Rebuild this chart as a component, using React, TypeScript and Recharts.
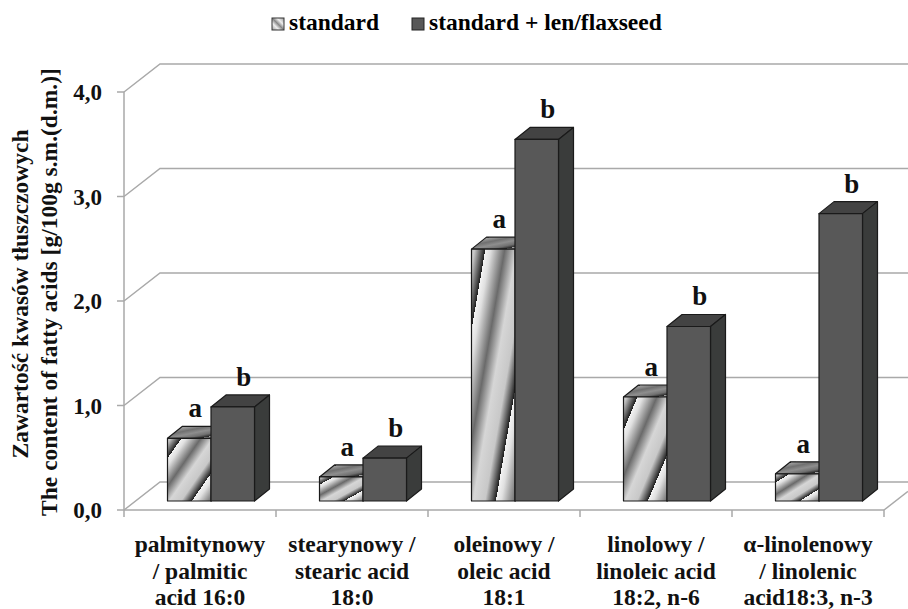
import React from "react";
import { BarChart, Bar, XAxis, YAxis, CartesianGrid, Legend, LabelList, Label } from "recharts";

const categoryKeys = ["palmitynowy", "stearynowy", "oleinowy", "linolowy", "linolenowy"];
const categoryLines = [
  ["palmitynowy", "/ palmitic", "acid 16:0"],
  ["stearynowy /", "stearic acid", "18:0"],
  ["oleinowy /", "oleic acid", "18:1"],
  ["linolowy /", "linoleic acid", "18:2, n-6"],
  ["α-linolenowy", "/ linolenic", "acid18:3, n-3"],
];
const standardValues = [0.6, 0.23, 2.41, 0.995, 0.26];
const flaxseedValues = [0.9, 0.41, 3.46, 1.67, 2.75];
const standardLetters = ["a", "a", "a", "a", "a"];
const flaxseedLetters = ["b", "b", "b", "b", "b"];
const yTicks = [0, 1, 2, 3, 4];
const seriesNames = ["standard", "standard + len/flaxseed"];
const yTitle = ["Zawartość kwasów tłuszczowych", "The content of fatty acids [g/100g s.m.(d.m.)]"];

const data = categoryKeys.map((k, i) => ({
  key: k,
  standard: standardValues[i],
  flax: flaxseedValues[i],
  la: standardLetters[i],
  lb: flaxseedLetters[i],
}));

const FONT = "'Liberation Serif', 'Times New Roman', serif";
const GRID = "#a9a9a9";
const INK = "#111";
const DX = 10.5, DY = -9;      // floor inset of the bars
const BX = 15, BY = -12;       // bar depth
const WX = 36, WY = -28;       // wall depth

const Stripes = ({ id, stops }: { id: string; stops: [number, string][] }) => (
  <linearGradient id={id} x1="0.16" y1="0.16" x2="0.78" y2="0.78" spreadMethod="repeat">
    {stops.map(([o, c], i) => <stop key={i} offset={o} stopColor={c} />)}
  </linearGradient>
);
const frontStops: [number, string][] = [[0, "#f4f4f4"], [0.1, "#e0e0e0"], [0.36, "#6a6a6a"], [0.58, "#d6d6d6"], [0.8, "#c8c8c8"], [1, "#1e1e1e"]];
const topStops: [number, string][] = [[0, "#a4a4a4"], [0.3, "#707070"], [0.55, "#8e8e8e"], [0.8, "#707070"], [1, "#262626"]];

const Box = ({ x, y, width, height, front, top, side }: any) => {
  const X = x + DX, Y = y + DY;
  return (
    <g stroke="#1a1a1a" strokeWidth={1.2} strokeLinejoin="round">
      <path d={`M${X},${Y} l${BX},${BY} h${width} l${-BX},${-BY} z`} fill={top} />
      <path d={`M${X + width},${Y} l${BX},${BY} v${height} l${-BX},${-BY} z`} fill={side} />
      <rect x={X} y={Y} width={width} height={height} fill={front} />
    </g>
  );
};
const StandardBar = (p: any) => <Box {...p} front="url(#stripesFront)" top="url(#stripesTop)" side="#555" />;
const FlaxBar = (p: any) => <Box {...p} front="#585858" top="#434343" side="#3a3c3b" />;

const makeLetter = (shift: number) => ({ x, y, width, value }: any) => (
  <text x={x + DX + width / 2 + shift} y={y + DY - 21} textAnchor="middle" fontFamily={FONT} fontWeight="bold" fontSize={27} fill={INK}>{value}</text>
);
const LetterA = makeLetter(6);
const LetterB = makeLetter(11);

const CategoryTick = ({ x, index }: any) => {
  const band = 152;
  const left = x - band / 2;
  const top = 510;
  return (
    <g>
      <line x1={left} x2={left} y1={top} y2={top + 7} stroke={GRID} strokeWidth={1.5} />
      {index === categoryLines.length - 1 && (
        <line x1={left + band} x2={left + band} y1={top} y2={top + 7} stroke={GRID} strokeWidth={1.5} />
      )}
      {categoryLines[index].map((t, i) => (
        <text key={i} x={x} y={top + 42 + i * 26.5} textAnchor="middle" fontFamily={FONT} fontWeight="bold" fontSize={23.5} fill={INK}>{t}</text>
      ))}
    </g>
  );
};

const WallLine = ({ x1, x2, y1, index }: any) => (
  <g key={index}>
    <path d={`M${x1},${y1} l${WX},${WY} H908`} fill="none" stroke={GRID} strokeWidth={1.5} />
    {y1 > 500 && <path d={`M${x2},${y1} L908,${y1 + (WY * 24) / WX}`} fill="none" stroke={GRID} strokeWidth={1.5} />}
  </g>
);

const YTitle = () => (
  <g fontFamily={FONT} fontWeight="bold" fontSize={23.5} fill={INK} textAnchor="middle">
    <text transform="translate(28,294) rotate(-90)">{yTitle[0]}</text>
    <text transform="translate(57,292) rotate(-90)">{yTitle[1]}</text>
  </g>
);

const LegendBox = () => (
  <div style={{ position: "relative", width: 908, height: 40, fontFamily: FONT, fontWeight: "bold", fontSize: 23.5, color: INK }}>
    <svg width={908} height={40} style={{ position: "absolute", left: 0, top: 0 }}>
      <defs>
        <linearGradient id="legendFill" x1="0" y1="1" x2="1" y2="0">
          <stop offset="0" stopColor="#999" /><stop offset="0.3" stopColor="#eee" />
          <stop offset="0.5" stopColor="#888" /><stop offset="0.7" stopColor="#eee" /><stop offset="1" stopColor="#999" />
        </linearGradient>
      </defs>
      <rect x={272} y={18} width={12} height={12} fill="url(#legendFill)" stroke="#333" strokeWidth={1} />
      <rect x={412} y={18} width={12} height={12} fill="#585858" stroke="#222" strokeWidth={1} />
      <text x={289} y={30}>{seriesNames[0]}</text>
      <text x={429} y={30}>{seriesNames[1]}</text>
    </svg>
  </div>
);

export default function App() {
  return (
    <div style={{ position: "absolute", left: 0, top: 0, width: 908, height: 609, background: "#fff" }}>
      <BarChart width={908} height={609} data={data} barGap={0} barSize={43.5}
        margin={{ top: 92, right: 24, bottom: 0, left: 0 }} style={{ overflow: "visible" }}>
        <defs>
          <Stripes id="stripesFront" stops={frontStops} />
          <Stripes id="stripesTop" stops={topStops} />
        </defs>
        <CartesianGrid vertical={false} horizontal={WallLine as any} />
        <XAxis dataKey="key" interval={0} height={99} axisLine={{ stroke: GRID, strokeWidth: 1.5 }} tickLine={false} tick={CategoryTick as any} tickMargin={0} />
        <YAxis domain={[0, 4]} ticks={yTicks} width={124} interval={0} axisLine={{ stroke: GRID, strokeWidth: 1.5 }}
          tickLine={{ stroke: GRID, strokeWidth: 1.5 }} tickSize={7} tickMargin={15}
          tickFormatter={(v: number) => v.toFixed(1).replace(".", ",")}
          tick={{ fontFamily: FONT, fontWeight: "bold", fontSize: 23, fill: INK }}>
          <Label content={YTitle as any} />
        </YAxis>
        <Legend verticalAlign="middle" align="center" layout="horizontal" content={LegendBox as any}
          wrapperStyle={{ position: "absolute", left: 0, top: 0, width: 908, height: 40 }} />
        <Bar dataKey="standard" name={seriesNames[0]} shape={StandardBar as any} isAnimationActive={false}>
          <LabelList dataKey="la" content={LetterA as any} />
        </Bar>
        <Bar dataKey="flax" name={seriesNames[1]} shape={FlaxBar as any} isAnimationActive={false}>
          <LabelList dataKey="lb" content={LetterB as any} />
        </Bar>
      </BarChart>
    </div>
  );
}
